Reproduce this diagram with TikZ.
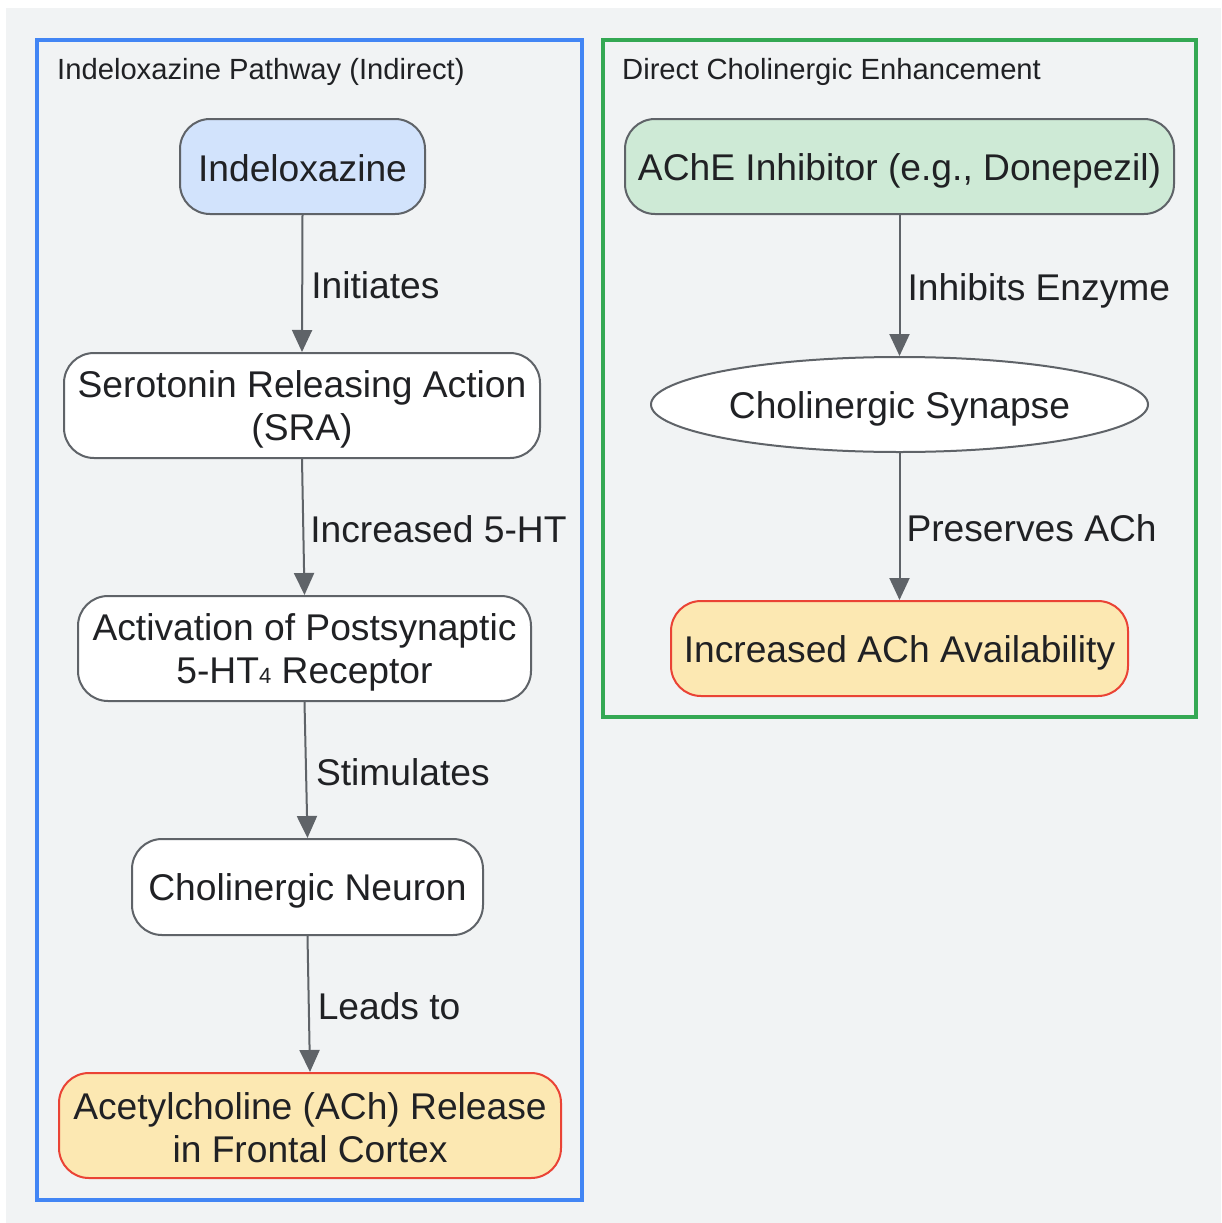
\documentclass[tikz,border=0pt]{standalone}
\usepackage{fontspec}
\setmainfont{Liberation Sans}
\usepackage{tikz}
\usetikzlibrary{arrows.meta,shapes.geometric}
\definecolor{bgray}{HTML}{F1F3F4}
\definecolor{lineg}{HTML}{5F6368}
\definecolor{txt}{HTML}{202124}
\definecolor{frblue}{HTML}{4285F4}
\definecolor{frgreen}{HTML}{34A853}
\definecolor{fillblue}{HTML}{D2E3FC}
\definecolor{fillgreen}{HTML}{CEEAD6}
\definecolor{fillyellow}{HTML}{FCE8B2}
\definecolor{redline}{HTML}{EA4335}
\newcommand\topst{\rule{0pt}{35pt}}
\newcommand\botst{\rule[-5pt]{0pt}{5pt}}

\begin{document}
\begin{tikzpicture}[x=1pt,y=-1pt,
  box/.style={draw=lineg,line width=2pt,fill=white,rounded corners=30pt,
    inner sep=0pt,align=center,text=txt,font=\fontsize{37.2}{43}\selectfont},
  result/.style={box,draw=redline,fill=fillyellow},
  frame/.style={line width=3.5pt},
  lbl/.style={anchor=west,inner sep=0pt,text=txt,text height=35pt,text depth=5pt,
    font=\fontsize{37.2}{43}\selectfont},
  head/.style={anchor=base west,inner sep=0pt,text=txt,font=\fontsize{29.2}{34}\selectfont},
  flow/.style={draw=lineg,line width=2pt,-{Triangle[length=22pt,width=20pt]}}]
\useasboundingbox (0,0) rectangle (1221,1223);
\fill[white] (0,0) rectangle (1221,1223);
\fill[bgray] (6,8) rectangle (1221,1223);
% the two groups
\draw[frame,frblue] (37,40) rectangle (582,1200);
\draw[frame,frgreen] (603,40) rectangle (1196,717);
\node[head] (hleft) at (57,80) {Indeloxazine Pathway (Indirect)};
\node[head] (hright) at (622,80) {Direct Cholinergic Enhancement};
% indirect pathway
\node[box,fill=fillblue,minimum width=245pt,minimum height=95pt] (indel) at (302.5,166.5) {\topst Indeloxazine\botst};
\node[box,minimum width=476pt,minimum height=105pt] (sra) at (302,405.5) {\topst Serotonin Releasing Action\\(SRA)\botst};
\node[box,minimum width=453pt,minimum height=105pt] (recep) at (304.5,648.5) {\topst Activation of Postsynaptic\\5-HT{\fontsize{22}{22}\selectfont 4} Receptor\botst};
\node[box,minimum width=351pt,minimum height=96pt] (neuron) at (307.5,887) {\topst Cholinergic Neuron\botst};
\node[result,minimum width=502pt,minimum height=105pt] (release) at (310,1125.5) {\topst Acetylcholine (ACh) Release\\in Frontal Cortex\botst};
% direct pathway
\node[box,fill=fillgreen,minimum width=549pt,minimum height=95pt] (ache) at (899.5,166.5) {\topst AChE Inhibitor (e.g., Donepezil)\botst};
\node[box,ellipse,minimum width=497pt,minimum height=95pt] (syn) at (899.5,404.5) {\topst Cholinergic Synapse\botst};
\node[result,minimum width=457pt,minimum height=95pt] (avail) at (899.5,648.5) {\topst Increased ACh Availability\botst};
% connectors
\draw[flow] (indel.south) -- (sra.north) node[lbl,midway,xshift=8pt] {Initiates};
\draw[flow] (sra.south) -- (recep.north) node[lbl,midway,xshift=6pt] {Increased 5-HT};
\draw[flow] (recep.south) -- (neuron.north) node[lbl,midway,xshift=9pt] {Stimulates};
\draw[flow] (neuron.south) -- (release.north) node[lbl,midway,xshift=8pt] {Leads to};
\draw[flow] (ache.south) -- (syn.north) node[lbl,midway,xshift=7pt] {Inhibits Enzyme};
\draw[flow] (syn.south) -- (avail.north) node[lbl,midway,xshift=6pt] {Preserves ACh};
\end{tikzpicture}
\end{document}
